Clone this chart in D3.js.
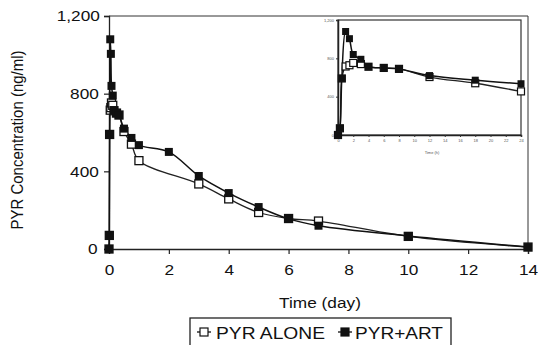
<!DOCTYPE html>
<html>
<head>
<meta charset="utf-8">
<script src="https://cdn.jsdelivr.net/npm/d3@7"></script>
<style>
  body { margin: 0; background: #fff; }
  svg { font-family: "Liberation Sans", Arial, sans-serif; }
  .wide { transform-box: fill-box; transform-origin: center; transform: scaleX(1.15); }
</style>
</head>
<body>
<div id="app"></div>
<script>
// time in hours, concentration in ng/ml
const artTimeH = [0, 0.25, 0.5, 1, 1.5, 2, 3, 4, 6, 8, 12, 18, 24, 48, 72, 96, 120, 144, 168, 240, 336];
const artConc = [0, 70, 590, 1080, 1005, 840, 790, 715, 700, 690, 620, 572, 535, 500, 376, 288, 216, 155, 120, 67, 10];
const aloneTimeH = [0, 0.25, 0.5, 1, 1.5, 2, 3, 4, 6, 8, 12, 18, 24, 72, 96, 120, 144, 168, 240, 336];
const aloneConc = [0, 70, 590, 715, 728, 752, 740, 712, 700, 690, 605, 540, 455, 335, 258, 188, 157, 144, 65, 10];

const dayTicks = [0, 2, 4, 6, 8, 10, 12, 14];
const concTicks = [0, 400, 800, 1200];
const hourTicks = [0, 2, 4, 6, 8, 10, 12, 14, 16, 18, 20, 22, 24];

const w = 538;
const h = 345;

const art = artTimeH.map((t, i) => ({ t: t, v: artConc[i] }));
const alone = aloneTimeH.map((t, i) => ({ t: t, v: aloneConc[i] }));

const svg = d3.select("#app").append("svg").attr("width", w).attr("height", h);

//main scales
const x = d3.scaleLinear().domain([0, 14]).range([109, 528]);
const y = d3.scaleLinear().domain([0, 1200]).range([249, 16]);

//frame top + right
svg.append("path")
  .attr("d", `M${x(0)},${y(1200)}H${x(14)}V${y(0)}`)
  .attr("fill", "none")
  .attr("stroke", "#333")
  .attr("stroke-width", 1);

//x axis
const xAxis = svg.append("g")
  .attr("transform", `translate(0,${y(0)})`)
  .call(d3.axisBottom(x).tickValues(dayTicks).tickSize(5).tickPadding(10));
//y axis
const yAxis = svg.append("g")
  .attr("transform", `translate(${x(0)},0)`)
  .call(d3.axisLeft(y).tickValues(concTicks).tickSize(5).tickPadding(7)
    .tickFormat(d3.format(",")));

[xAxis, yAxis].forEach((g) => {
  g.select(".domain").attr("stroke", "#222").attr("stroke-width", 1.3);
  g.selectAll(".tick line").attr("stroke", "#222").attr("stroke-width", 1.2);
  g.selectAll(".tick text").attr("font-size", 15).attr("fill", "#111")
    .attr("font-family", "Liberation Sans, Arial, sans-serif").attr("class", "wide");
});

const lineMain = d3.line()
  .x((d) => x(d.t / 24))
  .y((d) => y(d.v))
  .curve(d3.curveCatmullRom.alpha(0.5));

svg.append("path").datum(alone).attr("d", lineMain)
  .attr("fill", "none").attr("stroke", "#222").attr("stroke-width", 1.3);
svg.append("path").datum(art).attr("d", lineMain)
  .attr("fill", "none").attr("stroke", "#111").attr("stroke-width", 1.5);

const m = 8;
svg.append("g").selectAll("rect")
  .data(alone)
  .join("rect")
  .attr("x", (d) => x(d.t / 24) - m / 2)
  .attr("y", (d) => y(d.v) - m / 2)
  .attr("width", m).attr("height", m)
  .attr("fill", "#fff").attr("stroke", "#111").attr("stroke-width", 1.3);
svg.append("g").selectAll("rect")
  .data(art)
  .join("rect")
  .attr("x", (d) => x(d.t / 24) - m / 2)
  .attr("y", (d) => y(d.v) - m / 2)
  .attr("width", m).attr("height", m)
  .attr("fill", "#111");

//axis titles
svg.append("text")
  .attr("class", "wide")
  .attr("x", 320).attr("y", 308)
  .attr("text-anchor", "middle")
  .attr("font-size", 15)
  .attr("fill", "#111")
  .text("Time (day)");
svg.append("text")
  .attr("transform", "translate(23,140) rotate(-90) scale(1,1.15)")
  .attr("text-anchor", "middle")
  .attr("font-size", 15)
  .attr("fill", "#111")
  .text("PYR Concentration (ng/ml)");

//inset
const xi = d3.scaleLinear().domain([0, 24]).range([338, 521]);
const yi = d3.scaleLinear().domain([0, 1200]).range([135, 20]);
const inset = svg.append("g");
inset.append("rect")
  .attr("x", xi(0)).attr("y", yi(1200))
  .attr("width", xi(24) - xi(0)).attr("height", yi(0) - yi(1200))
  .attr("fill", "#fff").attr("stroke", "#333").attr("stroke-width", 1.2);
const xiAxis = inset.append("g")
  .attr("transform", `translate(0,${yi(0)})`)
  .call(d3.axisBottom(xi).tickValues(hourTicks).tickSize(2).tickPadding(2));
const yiAxis = inset.append("g")
  .attr("transform", `translate(${xi(0)},0)`)
  .call(d3.axisLeft(yi).tickValues(concTicks).tickSize(2).tickPadding(2));
[xiAxis, yiAxis].forEach((g) => {
  g.select(".domain").attr("stroke", "#222").attr("stroke-width", 1.5);
  g.selectAll(".tick line").attr("stroke", "#333");
  g.selectAll(".tick text").attr("font-size", 4).attr("fill", "#555");
});
inset.append("text")
  .attr("x", 432).attr("y", 154)
  .attr("text-anchor", "middle")
  .attr("font-size", 4)
  .attr("fill", "#555")
  .text("Time (h)");

const early = (arr) => arr.filter((d) => d.t <= 24);
const lineInset = d3.line()
  .x((d) => xi(d.t))
  .y((d) => yi(d.v))
  .curve(d3.curveCatmullRom.alpha(0.5));
inset.append("path").datum(early(alone)).attr("d", lineInset)
  .attr("fill", "none").attr("stroke", "#222").attr("stroke-width", 1.3);
inset.append("path").datum(early(art)).attr("d", lineInset)
  .attr("fill", "none").attr("stroke", "#111").attr("stroke-width", 1.5);
const mi = 7;
inset.append("g").selectAll("rect")
  .data(early(alone))
  .join("rect")
  .attr("x", (d) => xi(d.t) - mi / 2)
  .attr("y", (d) => yi(d.v) - mi / 2)
  .attr("width", mi).attr("height", mi)
  .attr("fill", "#fff").attr("stroke", "#111").attr("stroke-width", 1.2);
inset.append("g").selectAll("rect")
  .data(early(art))
  .join("rect")
  .attr("x", (d) => xi(d.t) - mi / 2)
  .attr("y", (d) => yi(d.v) - mi / 2)
  .attr("width", mi).attr("height", mi)
  .attr("fill", "#111");

//legend
const legend = svg.append("g");
legend.append("rect")
  .attr("x", 190).attr("y", 318)
  .attr("width", 261).attr("height", 40)
  .attr("fill", "#fff").attr("stroke", "#222").attr("stroke-width", 1.3);
const items = [
  { name: "PYR ALONE", open: true, cx: 204, tx: 216 },
  { name: "PYR+ART", open: false, cx: 345, tx: 355 }
];
items.forEach((it) => {
  legend.append("line")
    .attr("x1", it.cx - 7).attr("x2", it.cx + 7)
    .attr("y1", 332).attr("y2", 332)
    .attr("stroke", "#111").attr("stroke-width", 1.3);
  legend.append("rect")
    .attr("x", it.cx - 4).attr("y", 328)
    .attr("width", 8).attr("height", 8)
    .attr("fill", it.open ? "#fff" : "#111")
    .attr("stroke", "#111").attr("stroke-width", 1.2);
  legend.append("text")
    .attr("x", it.tx).attr("y", 338.5)
    .attr("font-size", 16)
    .attr("fill", "#111")
    .attr("textLength", it.open ? 109 : 88)
    .attr("lengthAdjust", "spacingAndGlyphs")
    .text(it.name);
});
</script>
</body>
</html>
